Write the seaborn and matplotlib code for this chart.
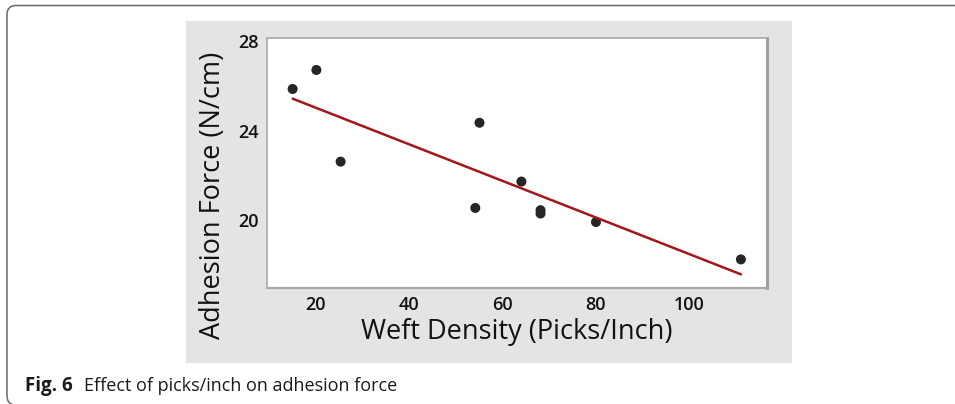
import numpy as np
import pandas as pd
import matplotlib
matplotlib.use("Agg")
import matplotlib.pyplot as plt
from matplotlib.patches import Rectangle, FancyBboxPatch
from matplotlib.transforms import IdentityTransform
import seaborn as sns

# values
weft_density = [15.0, 20.1, 25.3, 54.2, 55.1, 64.1, 68.2, 68.2, 80.1, 111.2]
adhesion_force = [25.87, 26.72, 22.62, 20.55, 24.36, 21.73, 20.45, 20.30, 19.92, 18.25]
x_ticks = [20, 40, 60, 80, 100]
y_ticks = [20, 24, 28]

df = pd.DataFrame({"Weft": weft_density, "Adhesion": adhesion_force})

sns.set_style("white")
plt.rcParams["font.family"] = ["Open Sans", "DejaVu Sans"]

W, H = 955, 404
fig = plt.figure(figsize=(W / 100, H / 100), dpi=100)

# journal frame (rounded box) and grey plot panel
frame = FancyBboxPatch((7, -1), 1000, H - 5.5 + 1, boxstyle="round,pad=0,rounding_size=9",
                       transform=IdentityTransform(), fill=False, edgecolor="#6a6a6a", lw=1.1, zorder=-2)
fig.patches.append(frame)
fig.patches.append(Rectangle((186 / W, 1 - 363 / H), 606 / W, 342 / H,
                             transform=fig.transFigure, facecolor="#e4e4e4", edgecolor="none", zorder=-1))

ax = fig.add_axes([267 / W, 1 - 288 / H, 500 / W, 250 / H])
ax.set_zorder(2)
ax.set_facecolor("white")
sns.regplot(data=df, x="Weft", y="Adhesion", ax=ax, ci=None,
            scatter_kws={"color": "#262626", "s": 52, "alpha": 1, "edgecolor": "none"},
            line_kws={"color": "#a5161b", "lw": 1.8})

ax.set_xlim(9.5, 116.8)
ax.set_ylim(16.97, 28.15)
ax.set_xticks(x_ticks)
ax.set_yticks(y_ticks)
ax.tick_params(axis="both", length=3, color="#999999", labelsize=13, pad=3, labelcolor="#111111")
for lab in ax.get_xticklabels() + ax.get_yticklabels():
    lab.set_fontweight("semibold")

for side in ["left", "top", "bottom"]:
    ax.spines[side].set_color("#a8a8a8")
    ax.spines[side].set_linewidth(1.2)
ax.spines["right"].set_color("#a0a0a0")
ax.spines["right"].set_linewidth(2.2)
ax.spines["bottom"].set_linewidth(1.6)

ax.set_xlabel("Weft Density (Picks/Inch)", fontsize=19.5, color="#111111", va="center")
ax.set_ylabel("Adhesion Force (N/cm)", fontsize=19.5, color="#111111", va="center")
ax.xaxis.set_label_coords(0.5, (288 - 332) / 250)
ax.yaxis.set_label_coords((213 - 267) / 500, (288 - 195) / 250)

t1 = fig.text(25 / W, 1 - 391 / H, "Fig. 6", fontsize=13.5, fontweight="bold", color="#1a1a1a", va="baseline")
fig.canvas.draw()
ext = t1.get_window_extent()
fig.text((ext.x1 + 11) / W, 1 - 391 / H, "Effect of picks/inch on adhesion force", fontsize=13,
         color="#1a1a1a", va="baseline")

fig.savefig("out.png", dpi=100)
